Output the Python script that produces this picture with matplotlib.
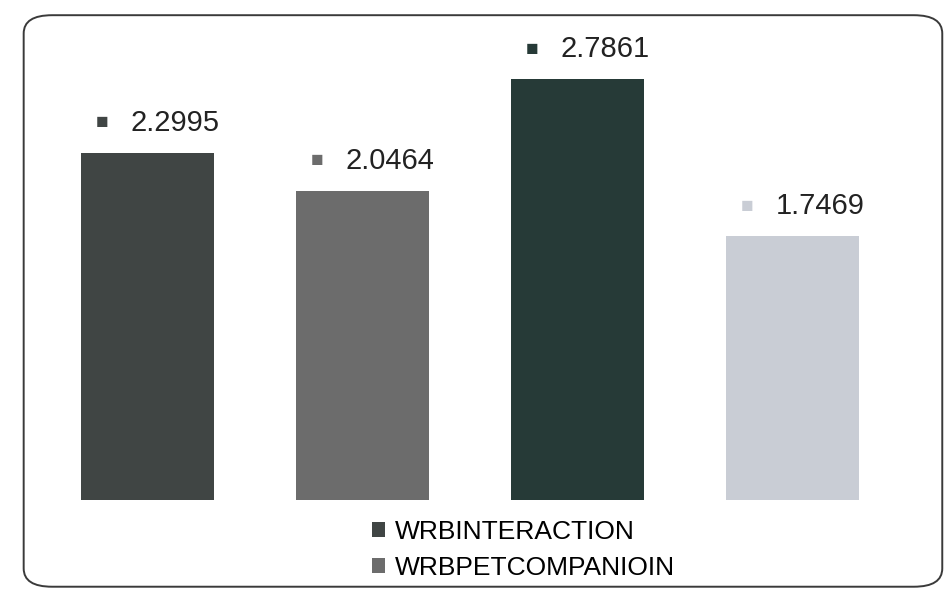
import matplotlib.pyplot as plt
from matplotlib.patches import FancyBboxPatch

plt.rcParams['font.family'] = ['Liberation Sans', 'DejaVu Sans']

# only the first two series names are visible in the legend
series = ["WRBINTERACTION", "WRBPETCOMPANIOIN", "Series3", "Series4"]
values = [2.2995, 2.0464, 2.7861, 1.7469]
colors = ["#404544", "#6c6c6c", "#263a37", "#c9cdd5"]
legend_shown = 2

fig = plt.figure(figsize=(9.47, 6.08), dpi=100)
fig.patch.set_facecolor("white")

# rounded chart border
border = FancyBboxPatch(
    (0.025, 0.035), 0.97, 0.94,
    boxstyle="round,pad=0,rounding_size=0.03",
    transform=fig.transFigure, facecolor="none",
    edgecolor="#3a3a3a", linewidth=1.4,
)
fig.patches.append(border)

ax = fig.add_axes([0.042, 0.178, 0.908, 0.745])
bars = ax.bar(range(len(values)), values, width=0.62, color=colors)

ax.set_xlim(-0.5, len(values) - 0.5)
ax.set_ylim(0, 3.0)
ax.axis("off")

# value labels with a small colour square in front
for bar, v, c in zip(bars, values, colors):
    ax.annotate(
        "\u25A0", xy=(bar.get_x(), v), xytext=(15, 30),
        textcoords="offset pixels", fontsize=15, color=c,
        va="center", ha="left", annotation_clip=False,
    )
    ax.annotate(
        f"{v:.4f}", xy=(bar.get_x(), v), xytext=(50, 30),
        textcoords="offset pixels", fontsize=21, color="#222222",
        va="center", ha="left", annotation_clip=False,
    )

ax.legend(
    bars[:legend_shown], series[:legend_shown],
    loc="upper left", bbox_to_anchor=(0.393, 0.145),
    bbox_transform=fig.transFigure, frameon=False,
    fontsize=19, handlelength=0.5, handleheight=0.5,
    handletextpad=0.35, labelspacing=0.45,
    borderaxespad=0, borderpad=0,
)

fig.savefig("out.png", dpi=100)
